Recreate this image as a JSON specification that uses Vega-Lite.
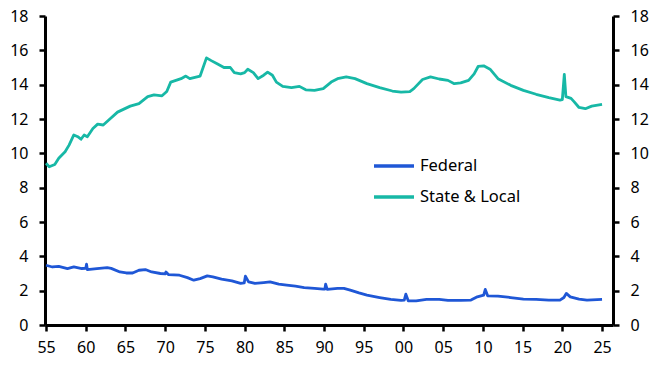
{
  "$schema": "https://vega.github.io/schema/vega-lite/v6.json",
  "width": 568,
  "height": 309,
  "autosize": "none",
  "padding": {"left": 45, "top": 16, "right": 50, "bottom": 47},
  "background": "white",
  "config": {"view": {"stroke": null}, "font": "Noto Sans"},
  "data": {"values": [
    {"s": "Federal", "year": 1955.0, "value": 3.48}, {"s": "Federal", "year": 1955.8, "value": 3.38}, {"s": "Federal", "year": 1956.6, "value": 3.42},
    {"s": "Federal", "year": 1957.7, "value": 3.29}, {"s": "Federal", "year": 1958.5, "value": 3.38}, {"s": "Federal", "year": 1959.5, "value": 3.29},
    {"s": "Federal", "year": 1960.0, "value": 3.3}, {"s": "Federal", "year": 1960.1, "value": 3.54}, {"s": "Federal", "year": 1960.2, "value": 3.23},
    {"s": "Federal", "year": 1961.4, "value": 3.29}, {"s": "Federal", "year": 1962.7, "value": 3.34}, {"s": "Federal", "year": 1963.2, "value": 3.3},
    {"s": "Federal", "year": 1964.3, "value": 3.09}, {"s": "Federal", "year": 1965.1, "value": 3.03}, {"s": "Federal", "year": 1965.9, "value": 3.03},
    {"s": "Federal", "year": 1966.7, "value": 3.19}, {"s": "Federal", "year": 1967.5, "value": 3.23}, {"s": "Federal", "year": 1968.3, "value": 3.09},
    {"s": "Federal", "year": 1969.4, "value": 3.0}, {"s": "Federal", "year": 1970.0, "value": 2.98}, {"s": "Federal", "year": 1970.1, "value": 3.09},
    {"s": "Federal", "year": 1970.4, "value": 2.94}, {"s": "Federal", "year": 1971.8, "value": 2.9}, {"s": "Federal", "year": 1972.8, "value": 2.76},
    {"s": "Federal", "year": 1973.6, "value": 2.61}, {"s": "Federal", "year": 1974.4, "value": 2.7}, {"s": "Federal", "year": 1975.3, "value": 2.86},
    {"s": "Federal", "year": 1976.0, "value": 2.8}, {"s": "Federal", "year": 1977.1, "value": 2.67}, {"s": "Federal", "year": 1978.4, "value": 2.57},
    {"s": "Federal", "year": 1979.5, "value": 2.42}, {"s": "Federal", "year": 1979.95, "value": 2.45}, {"s": "Federal", "year": 1980.1, "value": 2.84},
    {"s": "Federal", "year": 1980.5, "value": 2.51}, {"s": "Federal", "year": 1981.3, "value": 2.42}, {"s": "Federal", "year": 1982.4, "value": 2.47},
    {"s": "Federal", "year": 1983.2, "value": 2.51}, {"s": "Federal", "year": 1984.3, "value": 2.38}, {"s": "Federal", "year": 1985.3, "value": 2.32},
    {"s": "Federal", "year": 1986.4, "value": 2.26}, {"s": "Federal", "year": 1987.5, "value": 2.18}, {"s": "Federal", "year": 1988.8, "value": 2.13},
    {"s": "Federal", "year": 1989.9, "value": 2.09}, {"s": "Federal", "year": 1990.1, "value": 2.09}, {"s": "Federal", "year": 1990.2, "value": 2.38},
    {"s": "Federal", "year": 1990.4, "value": 2.07}, {"s": "Federal", "year": 1991.7, "value": 2.13}, {"s": "Federal", "year": 1992.5, "value": 2.13},
    {"s": "Federal", "year": 1993.3, "value": 2.03}, {"s": "Federal", "year": 1994.4, "value": 1.87}, {"s": "Federal", "year": 1995.4, "value": 1.74},
    {"s": "Federal", "year": 1997.0, "value": 1.6}, {"s": "Federal", "year": 1998.4, "value": 1.49}, {"s": "Federal", "year": 1999.7, "value": 1.43},
    {"s": "Federal", "year": 2000.1, "value": 1.45}, {"s": "Federal", "year": 2000.3, "value": 1.8}, {"s": "Federal", "year": 2000.6, "value": 1.41},
    {"s": "Federal", "year": 2001.6, "value": 1.41}, {"s": "Federal", "year": 2002.9, "value": 1.49}, {"s": "Federal", "year": 2004.5, "value": 1.49},
    {"s": "Federal", "year": 2005.6, "value": 1.43}, {"s": "Federal", "year": 2007.2, "value": 1.43}, {"s": "Federal", "year": 2008.5, "value": 1.45},
    {"s": "Federal", "year": 2009.3, "value": 1.64}, {"s": "Federal", "year": 2010.1, "value": 1.74}, {"s": "Federal", "year": 2010.3, "value": 2.07},
    {"s": "Federal", "year": 2010.6, "value": 1.7}, {"s": "Federal", "year": 2011.9, "value": 1.68}, {"s": "Federal", "year": 2013.5, "value": 1.6},
    {"s": "Federal", "year": 2015.1, "value": 1.51}, {"s": "Federal", "year": 2016.7, "value": 1.49}, {"s": "Federal", "year": 2018.3, "value": 1.45},
    {"s": "Federal", "year": 2019.7, "value": 1.45}, {"s": "Federal", "year": 2020.2, "value": 1.6}, {"s": "Federal", "year": 2020.5, "value": 1.84},
    {"s": "Federal", "year": 2021.0, "value": 1.64}, {"s": "Federal", "year": 2022.1, "value": 1.51}, {"s": "Federal", "year": 2023.1, "value": 1.45},
    {"s": "Federal", "year": 2025.0, "value": 1.49},
    {"s": "State & Local", "year": 1955.0, "value": 9.42}, {"s": "State & Local", "year": 1955.4, "value": 9.22}, {"s": "State & Local", "year": 1956.1, "value": 9.35},
    {"s": "State & Local", "year": 1956.6, "value": 9.71}, {"s": "State & Local", "year": 1957.4, "value": 10.09}, {"s": "State & Local", "year": 1957.9, "value": 10.48},
    {"s": "State & Local", "year": 1958.5, "value": 11.07}, {"s": "State & Local", "year": 1959.0, "value": 10.97}, {"s": "State & Local", "year": 1959.4, "value": 10.82},
    {"s": "State & Local", "year": 1959.8, "value": 11.07}, {"s": "State & Local", "year": 1960.2, "value": 10.97}, {"s": "State & Local", "year": 1960.9, "value": 11.45},
    {"s": "State & Local", "year": 1961.5, "value": 11.7}, {"s": "State & Local", "year": 1962.2, "value": 11.65}, {"s": "State & Local", "year": 1962.9, "value": 11.94},
    {"s": "State & Local", "year": 1964.0, "value": 12.4}, {"s": "State & Local", "year": 1965.6, "value": 12.75}, {"s": "State & Local", "year": 1966.7, "value": 12.9},
    {"s": "State & Local", "year": 1967.8, "value": 13.3}, {"s": "State & Local", "year": 1968.6, "value": 13.4}, {"s": "State & Local", "year": 1969.6, "value": 13.35},
    {"s": "State & Local", "year": 1970.2, "value": 13.6}, {"s": "State & Local", "year": 1970.7, "value": 14.15}, {"s": "State & Local", "year": 1972.0, "value": 14.35},
    {"s": "State & Local", "year": 1972.6, "value": 14.5}, {"s": "State & Local", "year": 1973.1, "value": 14.35}, {"s": "State & Local", "year": 1974.4, "value": 14.5},
    {"s": "State & Local", "year": 1975.2, "value": 15.56}, {"s": "State & Local", "year": 1975.8, "value": 15.4}, {"s": "State & Local", "year": 1976.6, "value": 15.2},
    {"s": "State & Local", "year": 1977.4, "value": 15.0}, {"s": "State & Local", "year": 1978.2, "value": 15.0}, {"s": "State & Local", "year": 1978.7, "value": 14.7},
    {"s": "State & Local", "year": 1979.5, "value": 14.63}, {"s": "State & Local", "year": 1980.0, "value": 14.7}, {"s": "State & Local", "year": 1980.4, "value": 14.9},
    {"s": "State & Local", "year": 1981.1, "value": 14.7}, {"s": "State & Local", "year": 1981.7, "value": 14.35}, {"s": "State & Local", "year": 1982.4, "value": 14.55},
    {"s": "State & Local", "year": 1982.9, "value": 14.73}, {"s": "State & Local", "year": 1983.5, "value": 14.55}, {"s": "State & Local", "year": 1984.0, "value": 14.15},
    {"s": "State & Local", "year": 1984.8, "value": 13.9}, {"s": "State & Local", "year": 1985.9, "value": 13.83}, {"s": "State & Local", "year": 1986.9, "value": 13.9},
    {"s": "State & Local", "year": 1987.7, "value": 13.7}, {"s": "State & Local", "year": 1988.8, "value": 13.67}, {"s": "State & Local", "year": 1989.9, "value": 13.77},
    {"s": "State & Local", "year": 1990.9, "value": 14.15}, {"s": "State & Local", "year": 1991.7, "value": 14.35}, {"s": "State & Local", "year": 1992.8, "value": 14.45},
    {"s": "State & Local", "year": 1993.9, "value": 14.35}, {"s": "State & Local", "year": 1995.4, "value": 14.06}, {"s": "State & Local", "year": 1997.0, "value": 13.83},
    {"s": "State & Local", "year": 1998.6, "value": 13.63}, {"s": "State & Local", "year": 1999.7, "value": 13.56}, {"s": "State & Local", "year": 2000.8, "value": 13.6},
    {"s": "State & Local", "year": 2001.3, "value": 13.77}, {"s": "State & Local", "year": 2002.4, "value": 14.3}, {"s": "State & Local", "year": 2003.4, "value": 14.45},
    {"s": "State & Local", "year": 2004.5, "value": 14.33}, {"s": "State & Local", "year": 2005.6, "value": 14.25}, {"s": "State & Local", "year": 2006.4, "value": 14.06},
    {"s": "State & Local", "year": 2007.2, "value": 14.1}, {"s": "State & Local", "year": 2008.2, "value": 14.25}, {"s": "State & Local", "year": 2008.9, "value": 14.63},
    {"s": "State & Local", "year": 2009.4, "value": 15.06}, {"s": "State & Local", "year": 2010.1, "value": 15.1}, {"s": "State & Local", "year": 2010.9, "value": 14.9},
    {"s": "State & Local", "year": 2011.9, "value": 14.35}, {"s": "State & Local", "year": 2013.5, "value": 13.96}, {"s": "State & Local", "year": 2015.1, "value": 13.67},
    {"s": "State & Local", "year": 2016.7, "value": 13.44}, {"s": "State & Local", "year": 2018.3, "value": 13.25}, {"s": "State & Local", "year": 2019.7, "value": 13.1},
    {"s": "State & Local", "year": 2020.0, "value": 13.13}, {"s": "State & Local", "year": 2020.25, "value": 14.6}, {"s": "State & Local", "year": 2020.45, "value": 13.3},
    {"s": "State & Local", "year": 2021.1, "value": 13.2}, {"s": "State & Local", "year": 2021.5, "value": 13.0}, {"s": "State & Local", "year": 2022.1, "value": 12.67},
    {"s": "State & Local", "year": 2022.9, "value": 12.6}, {"s": "State & Local", "year": 2023.7, "value": 12.75}, {"s": "State & Local", "year": 2025.0, "value": 12.85}
  ]},
  "encoding": {
    "x": {
      "field": "year", "type": "quantitative",
      "scale": {"domain": [1954.87, 2026.38], "nice": false, "zero": false},
      "axis": {
        "title": null, "grid": false,
        "values": [1955, 1960, 1965, 1970, 1975, 1980, 1985, 1990, 1995, 2000, 2005, 2010, 2015, 2020, 2025],
        "labelExpr": "substring(toString(datum.value), 2, 4)",
        "domainColor": "black", "domainWidth": 3,
        "tickColor": "black", "tickWidth": 2.5, "tickSize": 6,
        "labelFontSize": 16, "labelColor": "black", "labelPadding": 8,
        "labelFlush": false, "labelOverlap": false
      }
    }
  },
  "layer": [
    {
      "mark": {"type": "line", "strokeWidth": 2.8, "strokeJoin": "round"},
      "encoding": {
        "y": {
          "field": "value", "type": "quantitative",
          "scale": {"domain": [0, 18], "nice": false, "zero": true},
          "axis": {
            "orient": "left", "title": null, "grid": false,
            "values": [0, 2, 4, 6, 8, 10, 12, 14, 16, 18],
            "domainColor": "black", "domainWidth": 3,
            "tickColor": "black", "tickWidth": 2.5, "tickSize": 6,
            "labelFontSize": 16, "labelColor": "black", "labelPadding": 11,
            "labelFlush": false, "labelOverlap": false
          }
        },
        "color": {
          "field": "s", "type": "nominal",
          "scale": {"domain": ["Federal", "State & Local"], "range": ["#1f57d6", "#17b8a6"]},
          "legend": {
            "orient": "none", "legendX": 327, "legendY": 128,
            "title": null, "symbolType": "stroke", "symbolSize": 1600,
            "symbolStrokeWidth": 3.5, "labelFontSize": 16.5, "labelColor": "black",
            "labelOffset": 4, "rowPadding": 0
          }
        }
      }
    },
    {
      "mark": {"type": "line", "opacity": 0},
      "encoding": {
        "y": {
          "field": "value", "type": "quantitative",
          "axis": {
            "orient": "right", "title": null, "grid": false,
            "values": [0, 2, 4, 6, 8, 10, 12, 14, 16, 18],
            "domainColor": "black", "domainWidth": 3,
            "tickColor": "black", "tickWidth": 2.5, "tickSize": 6,
            "labelFontSize": 16, "labelColor": "black", "labelPadding": 11,
            "labelFlush": false, "labelOverlap": false
          }
        },
        "detail": {"field": "s"}
      }
    }
  ],
  "resolve": {"axis": {"y": "independent"}}
}
